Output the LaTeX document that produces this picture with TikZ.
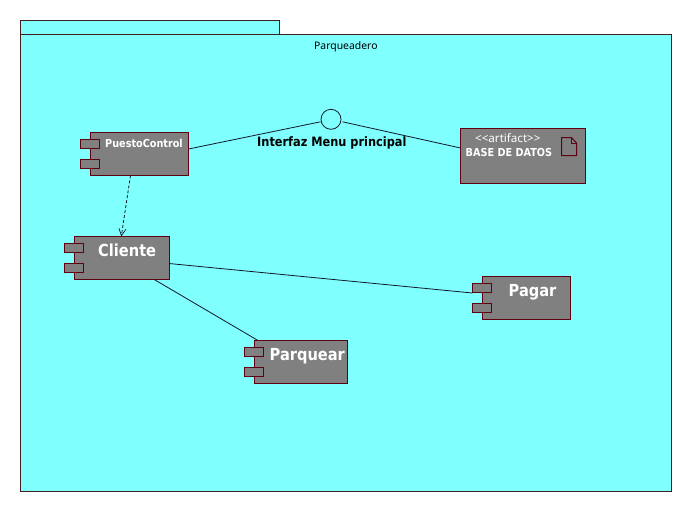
\documentclass[tikz,border=0pt]{standalone}
\usepackage{fontspec}
\usetikzlibrary{arrows.meta}
\setmainfont{Noto Sans}
\newfontfamily\heavyfont[FakeStretch=0.88]{DejaVu Sans}
\definecolor{pkgfill}{RGB}{128,255,255}
\definecolor{pkgline}{RGB}{64,32,32}
\definecolor{compfill}{RGB}{128,128,128}
\definecolor{compline}{RGB}{96,0,16}
\definecolor{wireline}{RGB}{16,24,40}
\tikzset{
  pkgbox/.style={draw=pkgline,fill=pkgfill,line width=1pt,inner sep=0pt,outer sep=0pt,anchor=north west},
  compbox/.style={draw=compline,fill=compfill,line width=1pt,inner sep=0pt,outer sep=0pt,anchor=north west},
  portbox/.style={compbox,minimum width=19pt,minimum height=9pt},
  wire/.style={draw=wireline,line width=0.8pt},
  label/.style={inner sep=0pt,anchor=base west},
  bigtxt/.style={label,text=white,font=\heavyfont\bfseries\fontsize{16.6}{19}\selectfont},
  smalltxt/.style={label,text=white,font=\heavyfont\bfseries\fontsize{11}{13}\selectfont},
  thintxt/.style={label,font=\fontsize{10.4}{12}\selectfont},
}
\begin{document}
\begin{tikzpicture}[x=1pt,y=-1pt]
\useasboundingbox (0,0) rectangle (692,512);
\fill[white] (0,0) rectangle (692,512);
\node[pkgbox,minimum width=259pt,minimum height=14pt] (tab) at (20.5,20.5) {};
\node[pkgbox,minimum width=651pt,minimum height=457pt] (pkg) at (20.5,34.5) {};
\node[thintxt,text=black] (pkgname) at (314,49.5) {Parqueadero};

\node[compbox,minimum width=98pt,minimum height=43pt] (puesto) at (90.5,132.5) {};
\node[portbox] (puestoA) at (80.5,139.5) {};
\node[portbox] (puestoB) at (80.5,159.5) {};
\node[smalltxt] (puestoT) at (105,147) {PuestoControl};

\node[compbox,minimum width=94.5pt,minimum height=43pt] (cliente) at (74.5,236.5) {};
\node[portbox] (clienteA) at (64.5,243.5) {};
\node[portbox] (clienteB) at (64.5,263.5) {};
\node[bigtxt] (clienteT) at (98,256) {Cliente};

\node[compbox,minimum width=88pt,minimum height=43pt] (pagar) at (482.5,276.5) {};
\node[portbox] (pagarA) at (472.5,283.5) {};
\node[portbox] (pagarB) at (472.5,303.5) {};
\node[bigtxt] (pagarT) at (508.5,296) {Pagar};

\node[compbox,minimum width=93pt,minimum height=43pt] (parquear) at (254.5,340.5) {};
\node[portbox] (parquearA) at (244.5,347.5) {};
\node[portbox] (parquearB) at (244.5,367.5) {};
\node[bigtxt] (parquearT) at (269.5,360) {Parquear};

\node[compbox,minimum width=125pt,minimum height=55pt] (bd) at (460.5,128.5) {};
\node[thintxt,text=white,font=\fontsize{11.6}{13}\selectfont] (bdS) at (475,142.7) {<{}<artifact>{}>};
\node[smalltxt] (bdN) at (465.5,156) {BASE DE DATOS};
\draw[draw=compline,line width=1pt] (561.5,137.5) -- (571.5,137.5) -- (576.5,143) -- (576.5,155.5) -- (561.5,155.5) -- cycle;
\draw[draw=compline,line width=1pt] (571.5,137.5) -- (571.5,143) -- (576.5,143);

\node[draw=wireline,line width=0.8pt,circle,minimum size=20pt,inner sep=0pt,outer sep=0pt] (iface) at (331,119.3) {};
\node[label,text=black,font=\heavyfont\bfseries\fontsize{12.9}{15}\selectfont] (ifaceT) at (257,146.7) {Interfaz Menu principal};

\draw[wire] ([yshift=5pt]puesto.east) -- ([xshift=-0.5pt,yshift=-2.5pt]iface.west);
\draw[wire] ([xshift=1.5pt,yshift=-2.5pt]iface.east) -- ([yshift=8pt]bd.west);
\draw[wire,dash pattern=on 3pt off 2pt,-{Straight Barb[length=7pt,width=7pt,line width=0.7pt]}] ([xshift=-9pt]puesto.south) -- ([xshift=-0.5pt]cliente.north);
\draw[wire] ([yshift=-5.5pt]cliente.east) -- ([yshift=-5pt]pagarA.west);
\draw[wire] ([xshift=32.5pt]cliente.south) -- ([xshift=-43pt]parquear.north);
\end{tikzpicture}
\end{document}
